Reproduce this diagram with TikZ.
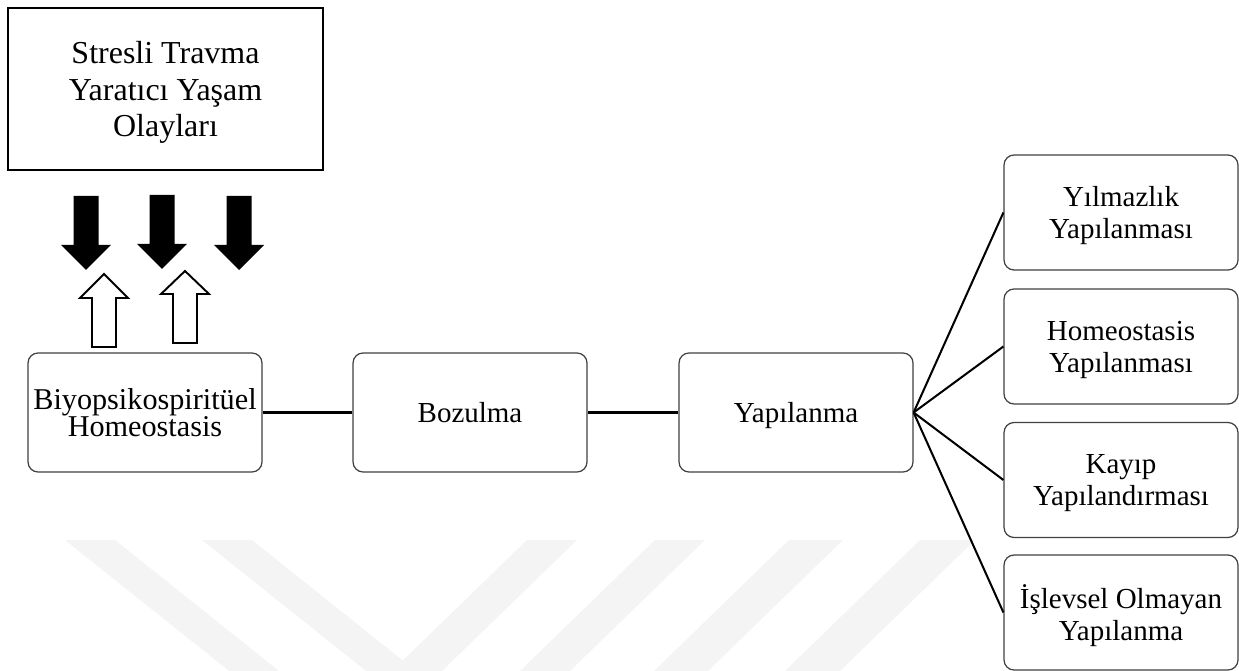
\documentclass[tikz,border=0pt]{standalone}
\usepackage{fontspec}
\setmainfont{Liberation Serif}
\tikzset{
    kutu/.style={draw=black!75, line width=0.7pt, rounded corners=0.2cm, fill=white, align=center, text depth=0pt, minimum width=4.68cm, minimum height=2.38cm, font=\fontsize{16.5}{18.3}\selectfont},
    sonuc/.style={kutu, minimum height=2.3cm},
    bag/.style={line width=1.15pt},
    iz/.style={fill=gray!9, draw=none},
}
\begin{document}
\begin{tikzpicture}[x=0.02cm, y=-0.02cm]
    \useasboundingbox (0,0) rectangle (1239,671);
    \fill[iz] (65,540) -- (115,540) -- (279,671) -- (229,671) -- cycle;
    \fill[iz] (202,540) -- (252,540) -- (416,671) -- (366,671) -- cycle;
    \fill[iz] (527,540) -- (577,540) -- (442,671) -- (392,671) -- cycle;
    \fill[iz] (655,540) -- (705,540) -- (570,671) -- (520,671) -- cycle;
    \fill[iz] (789,540) -- (843,540) -- (708,671) -- (654,671) -- cycle;
    \fill[iz] (920,540) -- (975,540) -- (840,671) -- (785,671) -- cycle;
    \node[draw, line width=1.4pt, align=center, text depth=0pt, minimum width=6.3cm, minimum height=3.24cm, font=\fontsize{18.2}{21}\selectfont] (stres) at (165.5,89) {Stresli Travma\\Yaratıcı Yaşam\\Olayları};
    \fill (73.5,196) -- (98.5,196) -- (98.5,245) -- (111,245) -- (86,270) -- (61,245) -- (73.5,245) -- cycle;
    \fill (149.5,195) -- (174.5,195) -- (174.5,244) -- (187,244) -- (162,269) -- (137,244) -- (149.5,244) -- cycle;
    \fill (226.5,196) -- (251.5,196) -- (251.5,245) -- (264,245) -- (239,270) -- (214,245) -- (226.5,245) -- cycle;
    \draw[line width=1.1pt, fill=white] (92,347) -- (116,347) -- (116,298) -- (128,298) -- (104,274) -- (80,298) -- (92,298) -- cycle;
    \draw[line width=1.1pt, fill=white] (173,343) -- (197,343) -- (197,294) -- (209,294) -- (185,271) -- (161,294) -- (173,294) -- cycle;
    \node[kutu, inner xsep=1pt, font=\fontsize{17.2}{15.9}\selectfont] (biyo) at (145,412.5) {Biyopsikospiritüel\\Homeostasis};
    \node[kutu] (boz) at (470,412.5) {Bozulma};
    \node[kutu] (yap) at (796,412.5) {Yapılanma};
    \node[sonuc] (yil) at (1121,212.5) {Yılmazlık\\Yapılanması};
    \node[sonuc] (hom) at (1121,346.5) {Homeostasis\\Yapılanması};
    \node[sonuc] (kay) at (1121,480) {Kayıp\\Yapılandırması};
    \node[sonuc] (isl) at (1121,612.5) {İşlevsel Olmayan\\Yapılanma};
    \draw[bag] (biyo) -- (boz);
    \draw[bag] (boz) -- (yap);
    \draw[bag] (yap.east) -- (yil.west);
    \draw[bag] (yap.east) -- (hom.west);
    \draw[bag] (yap.east) -- (kay.west);
    \draw[bag] (yap.east) -- (isl.west);
\end{tikzpicture}
\end{document}
